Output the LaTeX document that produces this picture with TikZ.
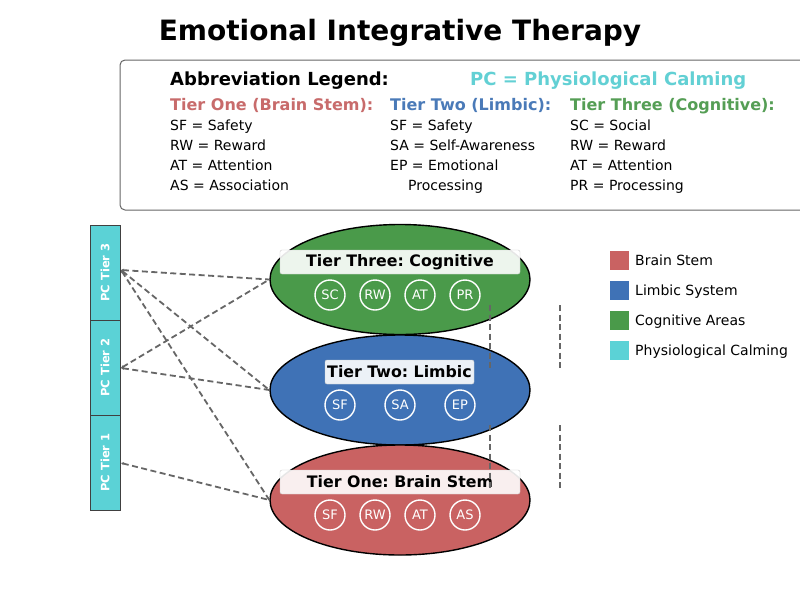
\documentclass[tikz,border=0pt]{standalone}
\usepackage{fontspec}
\setmainfont{DejaVu Sans}
\usetikzlibrary{shapes.geometric,arrows.meta}
\definecolor{cred}{HTML}{C96262}
\definecolor{cblue}{HTML}{3F72B6}
\definecolor{cgreen}{HTML}{4A9A4A}
\definecolor{ccyan}{HTML}{5BD2D6}
\definecolor{tred}{HTML}{C86B6B}
\definecolor{tblue}{HTML}{4A7AB8}
\definecolor{tgreen}{HTML}{559E55}
\definecolor{tcyan}{HTML}{62D0D4}
\definecolor{dgray}{HTML}{666666}
\frenchspacing
\begin{document}
\begin{tikzpicture}[x=1pt,y=-1pt,
  tier/.style={ellipse,draw=black,line width=1.4pt,minimum width=260pt,minimum height=110pt,inner sep=0pt},
  lab/.style={rounded corners=2pt,fill=white,fill opacity=0.9,text opacity=1,draw=black!20,inner sep=0pt,minimum height=24pt,font=\fontsize{15.8}{18}\selectfont\bfseries},
  abbr/.style={circle,draw=white,line width=1.4pt,minimum size=30pt,inner sep=0pt,text=white,font=\fontsize{13}{15}\selectfont},
  pcbox/.style={draw=black!75,line width=1pt,fill=ccyan,minimum width=30pt,minimum height=95pt,inner sep=0pt},
  pctext/.style={text=white,font=\fontsize{11.5}{13}\selectfont\bfseries,rotate=90},
  link/.style={dgray,dash pattern=on 6pt off 3.5pt,line width=1.8pt,{Stealth[length=3pt,width=3pt]}-},
  vdash/.style={dgray,dash pattern=on 6pt off 3.5pt,line width=1.8pt},
  item/.style={anchor=base west,inner sep=0pt,font=\fontsize{14}{16}\selectfont},
  head/.style={anchor=base west,inner sep=0pt,font=\fontsize{16}{18}\selectfont\bfseries},
  sw/.style={minimum size=19pt,inner sep=0pt},
  swt/.style={anchor=base west,inner sep=0pt,font=\fontsize{14}{16}\selectfont}
]
\useasboundingbox (0,0) rectangle (800,600);
\fill[white] (0,0) rectangle (800,600);

% title
\node[anchor=base,inner sep=0pt,font=\fontsize{28}{32}\selectfont\bfseries] (title) at (400,40) {Emotional Integrative Therapy};

% legend box
\draw[rounded corners=5pt,draw=black!60,line width=1pt,fill=white] (120,60) rectangle (815,210);
\node[anchor=base west,inner sep=0pt,font=\fontsize{18}{20}\selectfont\bfseries] (lg) at (170,85) {Abbreviation Legend:};
\node[anchor=base west,inner sep=0pt,text=tcyan,font=\fontsize{18}{20}\selectfont\bfseries] (pc) at (470,85) {PC = Physiological Calming};

\node[head,text=tred] (h1) at (170,110) {Tier One (Brain Stem):};
\node[head,text=tblue] (h2) at (390,110) {Tier Two (Limbic):};
\node[head,text=tgreen] (h3) at (570,110) {Tier Three (Cognitive):};

\node[item] (a1) at (170,130) {SF = Safety};
\node[item] (a2) at (170,150) {RW = Reward};
\node[item] (a3) at (170,170) {AT = Attention};
\node[item] (a4) at (170,190) {AS = Association};

\node[item] (b1) at (390,130) {SF = Safety};
\node[item] (b2) at (390,150) {SA = Self-Awareness};
\node[item] (b3) at (390,170) {EP = Emotional};
\node[item] (b4) at (408,190) {Processing};

\node[item] (c1) at (570,130) {SC = Social};
\node[item] (c2) at (570,150) {RW = Reward};
\node[item] (c3) at (570,170) {AT = Attention};
\node[item] (c4) at (570,190) {PR = Processing};

% PC boxes
\node[pcbox] (pc3) at (105,272.5) {};
\node[pcbox] (pc2) at (105,367.5) {};
\node[pcbox] (pc1) at (105,462.5) {};
\node[pctext] at (pc3) {PC Tier 3};
\node[pctext] at (pc2) {PC Tier 2};
\node[pctext] at (pc1) {PC Tier 1};

% tiers
\node[tier,fill=cgreen] (t3) at (400,279.5) {};
\node[tier,fill=cblue] (t2) at (400,390) {};
\node[tier,fill=cred] (t1) at (400,500) {};

\node[lab,minimum width=240pt] (l3) at (400,262) {Tier Three: Cognitive};
\node[lab,minimum width=149pt] (l2) at (399.5,372) {Tier Two: Limbic};
\node[lab,minimum width=240pt] (l1) at (400,482) {Tier One: Brain Stem};

\node[abbr] (g1) at (330,295) {SC};
\node[abbr] (g2) at (375,295) {RW};
\node[abbr] (g3) at (420,295) {AT};
\node[abbr] (g4) at (465,295) {PR};

\node[abbr] (m1) at (340,405) {SF};
\node[abbr] (m2) at (400,405) {SA};
\node[abbr] (m3) at (460,405) {EP};

\node[abbr] (r1) at (330,515) {SF};
\node[abbr] (r2) at (375,515) {RW};
\node[abbr] (r3) at (420,515) {AT};
\node[abbr] (r4) at (465,515) {AS};

% connectors
\coordinate (p3) at (121,270);
\coordinate (p2) at (121,368);
\coordinate (p1) at (121,463);
\draw[link] (p3) -- (t3.west);
\draw[link] (p3) -- (t2.west);
\draw[link] (p3) -- (t1.west);
\draw[link] (p2) -- (t3.west);
\draw[link] (p2) -- (t2.west);
\draw[link] (p1) -- (t1.west);

% vertical dashed lines
\coordinate (v1a) at (490,305); \coordinate (v1b) at (490,370);
\coordinate (v2a) at (490,425); \coordinate (v2b) at (490,490);
\coordinate (v3a) at (560,305); \coordinate (v3b) at (560,370);
\coordinate (v4a) at (560,425); \coordinate (v4b) at (560,490);
\draw[vdash] (v1a) -- (v1b);
\draw[vdash] (v2a) -- (v2b);
\draw[vdash] (v3a) -- (v3b);
\draw[vdash] (v4a) -- (v4b);

% right legend
\node[sw,fill=cred] (s1) at (619.5,260) {};
\node[sw,fill=cblue] (s2) at (619.5,290) {};
\node[sw,fill=cgreen] (s3) at (619.5,320) {};
\node[sw,fill=ccyan] (s4) at (619.5,350) {};
\node[swt] at (635,265) {Brain Stem};
\node[swt] at (635,295) {Limbic System};
\node[swt] at (635,325) {Cognitive Areas};
\node[swt] at (635,355) {Physiological Calming};
\end{tikzpicture}
\end{document}
